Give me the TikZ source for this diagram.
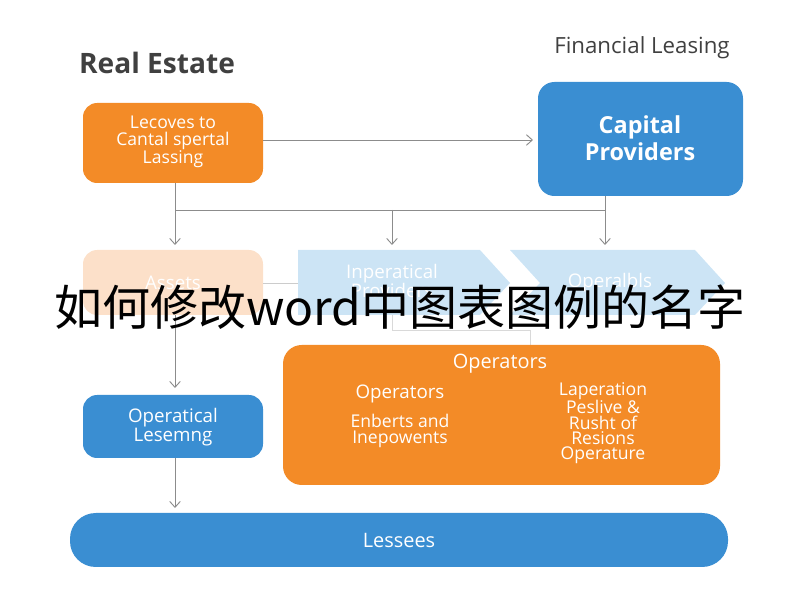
\documentclass[tikz,border=0pt]{standalone}
\usepackage{fontspec}
\setmainfont{Open Sans}
\newfontfamily\cjk{Noto Sans CJK SC}
\usetikzlibrary{arrows.meta,shapes.symbols}
\definecolor{orng}{HTML}{F38B27}
\definecolor{blu}{HTML}{3A8ED2}
\definecolor{peach}{HTML}{FCE0C9}
\definecolor{ltblu}{HTML}{CCE4F5}
\definecolor{lnk}{HTML}{8C8C8C}
\begin{document}
\begin{tikzpicture}[x=0.03cm,y=-0.03cm,
        box/.style={text=white, align=center, font=\fontsize{15}{14}\selectfont},
        tag/.style={text=white, align=center, font=\fontsize{16}{17}\selectfont},
        link/.style={draw=lnk, thick, -{Straight Barb[length=5pt,width=9pt]}},
        plain/.style={draw=lnk, thick},
    ]
    \useasboundingbox (0,0) rectangle (800,600);
    % headings
    \node[anchor=west, text=black!75, font=\fontsize{24}{24}\selectfont\bfseries] (re) at (75,63) {Real Estate};
    \node[text=black!75, font=\fontsize{19}{19}\selectfont] (fl) at (642,48) {Financial Leasing};
    % top row
    \fill[orng, rounded corners=12pt] (83,103) rectangle (263,183);
    \node[box] (lec) at (173,142) {Lecoves to\\Cantal spertal\\Lassing};
    \fill[blu, rounded corners=14pt] (538,82) rectangle (743,196);
    \node[box, font=\fontsize{20}{23}\selectfont\bfseries] (cap) at (640,138) {Capital\\Providers};
    \draw[link] (263,140) -- (533,140);
    \draw[plain] (175,183) -- (175,210) -- (605,210) -- (605,196);
    \foreach \x in {175,392,605}
        \draw[link] (\x,210) -- (\x,245);
    % second row
    \fill[peach, rounded corners=12pt] (83,250) rectangle (263,315);
    \node[tag] (ast) at (173,283) {Assets};
    \fill[ltblu] (298,250) -- (480,250) -- (510,283) -- (480,315) -- (298,315) -- cycle;
    \node[tag] (inp) at (392,281) {Inperatical\\Providers};
    \fill[ltblu] (510,250) -- (695,250) -- (725,283) -- (695,315) -- (510,315) -- (540,283) -- cycle;
    \node[tag] (opl) at (610,283) {Operalbls};
    \draw[plain, draw=black!20] (263,283) -- (298,283);
    \draw[plain, draw=black!15] (392,315) -- (392,330) -- (530,330) -- (530,345);
    \draw[link] (175,315) -- (175,388);
    % operators
    \fill[orng, rounded corners=16pt] (283,345) rectangle (720,485);
    \node[box, font=\fontsize{17}{17}\selectfont] (opt) at (500,364) {Operators};
    \node[box, font=\fontsize{16}{16}\selectfont] (op1) at (400,394) {Operators};
    \node[box] (op2) at (400,431) {Enberts and\\Inepowents};
    \node[box, font=\fontsize{15}{13}\selectfont] (op3) at (603,423) {Laperation\\Peslive \&\\Rusht of\\Resions\\Operature};
    % operatical
    \fill[blu, rounded corners=12pt] (83,395) rectangle (263,458);
    \node[box, font=\fontsize{16}{16}\selectfont] (opc) at (173,427) {Operatical\\Lesemng};
    \draw[link] (175,458) -- (175,508);
    % lessees
    \fill[blu, rounded corners=22pt] (70,513) rectangle (728,567);
    \node[box, font=\fontsize{17}{17}\selectfont] (les) at (399,540) {Lessees};
    % overlay
    \node[font=\cjk\fontsize{41}{41}\selectfont] (ttl) at (400,307) {如何修改word中图表图例的名字};
\end{tikzpicture}
\end{document}
